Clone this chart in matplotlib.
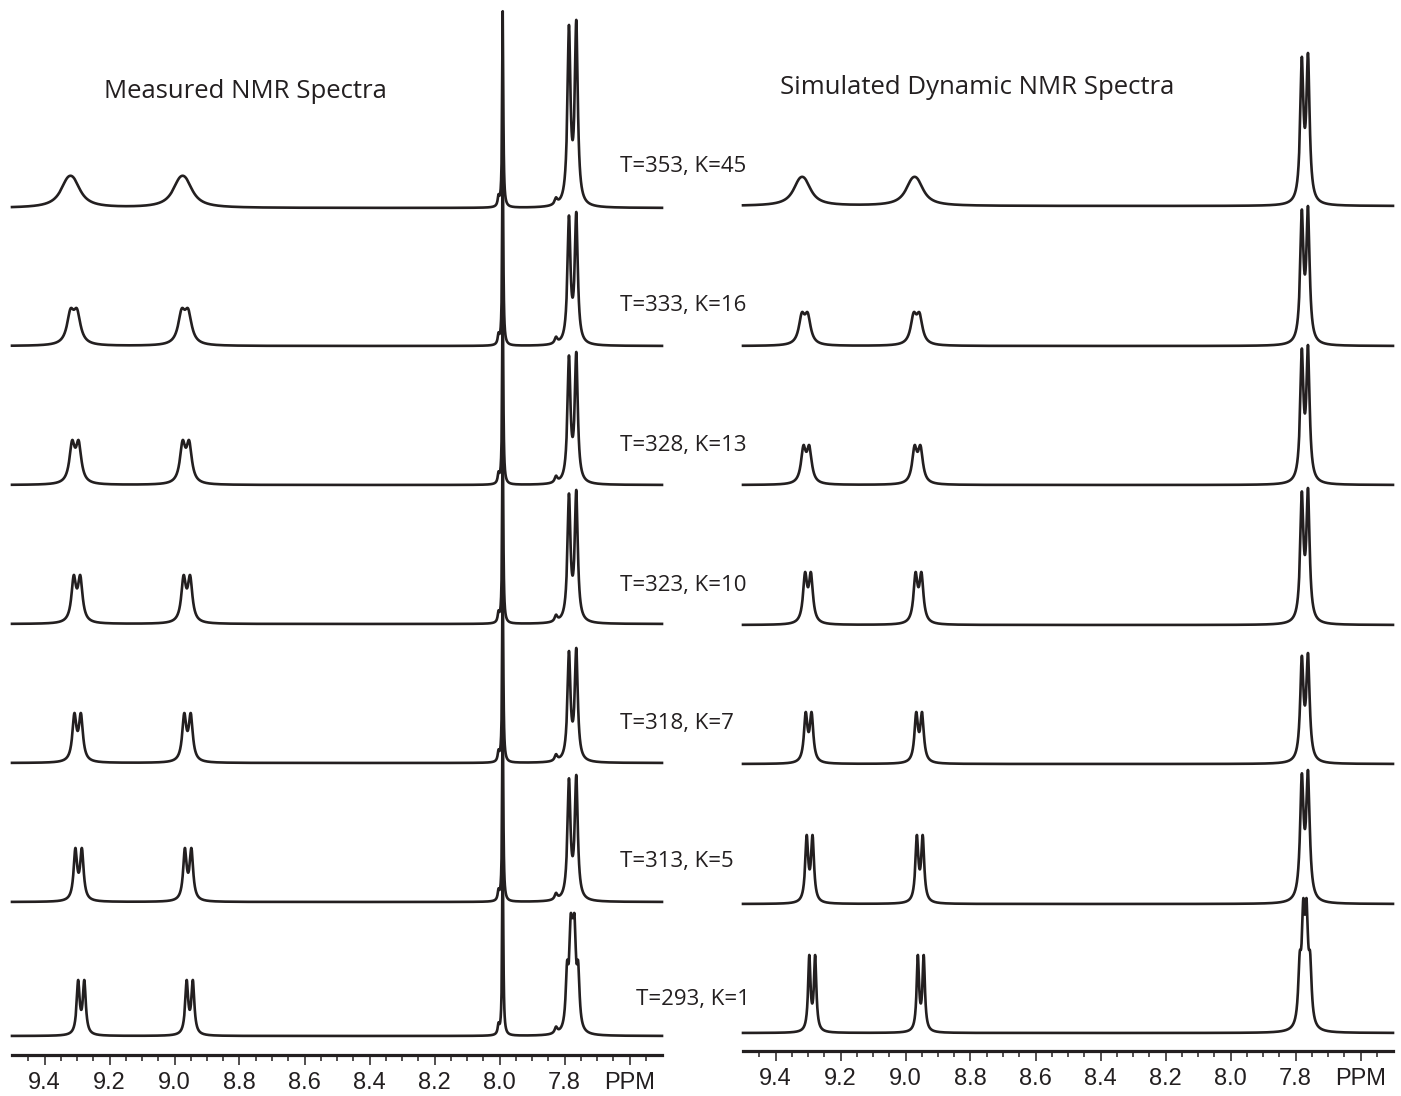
import numpy as np
import matplotlib
matplotlib.use("Agg")
import matplotlib.pyplot as plt
from matplotlib.ticker import FixedLocator, FixedFormatter

# ---------------- data ----------------
temps = [353, 333, 328, 323, 318, 313, 293]
k_rates = [45, 16, 13, 10, 7, 5, 1]

tick_vals = [9.4, 9.2, 9.0, 8.8, 8.6, 8.4, 8.2, 8.0, 7.8, 7.6]
tick_labels = ["9.4", "9.2", "9.0", "8.8", "8.6", "8.4", "8.2", "8.0", "7.8", "PPM"]

# measured spectra: peak A (~9.3 ppm), peak B (~8.96 ppm), peak C (~7.77 ppm), sharp S (7.99 ppm)
meas_pos_a = [9.320, 9.310, 9.305, 9.300, 9.298, 9.295, 9.287]
meas_pos_b = [8.975, 8.968, 8.965, 8.962, 8.960, 8.958, 8.953]
meas_h_ab = [32, 38, 45, 49, 50, 54, 56]
meas_w_ab = [0.055, 0.026, 0.020, 0.017, 0.015, 0.013, 0.011]
meas_j_ab = [0.020, 0.020, 0.020, 0.020, 0.020, 0.020, 0.019]
meas_pos_c = [7.775, 7.775, 7.775, 7.775, 7.775, 7.775, 7.775]
meas_h_c = [188, 134, 133, 134, 115, 127, 123]
meas_w_c = [0.011, 0.011, 0.011, 0.011, 0.011, 0.011, 0.010]
meas_j_c = [0.0225, 0.0225, 0.0225, 0.0225, 0.0225, 0.0225, 0.0225]
meas_pos_s = 7.990
meas_h_s = [196, 192, 192, 192, 192, 192, 190]
meas_w_s = 0.004
meas_sat_pos = [8.003, 7.826]
meas_sat_h = [9, 6]
meas_sat_w = [0.006, 0.010]

# simulated spectra
sim_pos_a = [9.318, 9.310, 9.305, 9.300, 9.298, 9.295, 9.287]
sim_pos_b = [8.972, 8.966, 8.963, 8.960, 8.958, 8.956, 8.953]
sim_h_ab = [29, 34, 40, 53, 52, 69, 78]
sim_w_ab = [0.050, 0.022, 0.018, 0.015, 0.013, 0.011, 0.009]
sim_j_ab = [0.018, 0.018, 0.018, 0.018, 0.018, 0.018, 0.018]
sim_pos_c = [7.771, 7.771, 7.771, 7.771, 7.771, 7.771, 7.771]
sim_h_c = [153, 140, 140, 137, 111, 134, 135]
sim_w_c = [0.0119, 0.0119, 0.0119, 0.0119, 0.0122, 0.0128, 0.011]
sim_j_c = [0.019, 0.019, 0.019, 0.019, 0.019, 0.019, 0.019]

# ---------------- layout ----------------
W, H = 1401, 1096
ink = "#231F20"
meas_base_px = [208, 346, 485, 624, 763, 902, 1036]
sim_base_px = [206, 346, 485, 625, 764, 904, 1033]
label_y_px = [166, 306, 445, 585, 724, 862, 1000]
label_x_px = [620, 620, 620, 620, 620, 620, 636]

x = np.linspace(7.5, 9.5, 6000)


def lines(center, offsets, intens, width):
    y = np.zeros_like(x)
    for o, inten in zip(offsets, intens):
        y += inten / (1.0 + ((x - (center + o)) / (width / 2.0)) ** 2)
    return y


def multiplet(center, offsets, intens, width, height):
    y = lines(center, offsets, intens, width)
    return y / y.max() * height


def doublet(center, j, width, height, ratio=1.0):
    return multiplet(center, [-j / 2, j / 2], [1.0, ratio], width, height)


def make_axes(left_px, axis_px):
    ax = fig.add_axes([left_px / W, 1 - axis_px / H, 650 / W, axis_px / H])
    ax.set_xlim(9.5, 7.5)
    ax.set_ylim(0, axis_px)
    ax.patch.set_visible(False)
    for s in ("top", "left", "right"):
        ax.spines[s].set_visible(False)
    ax.spines["bottom"].set_linewidth(2.3)
    ax.spines["bottom"].set_color(ink)
    ax.set_yticks([])
    ax.xaxis.set_major_locator(FixedLocator(tick_vals))
    ax.xaxis.set_major_formatter(FixedFormatter(tick_labels))
    ax.xaxis.set_minor_locator(FixedLocator(list(np.round(np.arange(7.55, 9.46, 0.05), 2))))
    ax.tick_params(axis="x", which="major", direction="out", length=7, width=1.1,
                   color=ink, pad=5, labelsize=17, labelcolor=ink)
    ax.tick_params(axis="x", which="minor", direction="out", length=4.5, width=1.1, color=ink)
    for lab in ax.get_xticklabels():
        lab.set_family(["Liberation Sans Narrow", "Liberation Sans", "DejaVu Sans"])
    return ax


fig = plt.figure(figsize=(W / 100, H / 100), dpi=100)
fig.patch.set_facecolor("white")

# ----- measured panel -----
axm = make_axes(12, 1055)
for i in range(len(temps)):
    base = 1055 - meas_base_px[i]
    y = np.full_like(x, float(base))
    y += doublet(meas_pos_a[i], meas_j_ab[i], meas_w_ab[i], meas_h_ab[i])
    y += doublet(meas_pos_b[i], meas_j_ab[i], meas_w_ab[i], meas_h_ab[i])
    if temps[i] == 293:
        y += multiplet(meas_pos_c[i], [-0.017, -0.006, 0.0, 0.006, 0.017],
                       [0.6, 0.9, 0.5, 0.9, 0.6], meas_w_c[i], meas_h_c[i])
    else:
        y += doublet(meas_pos_c[i], meas_j_c[i], meas_w_c[i], meas_h_c[i], 0.97)
    y += multiplet(meas_pos_s, [0.0], [1.0], meas_w_s, meas_h_s[i])
    for p, h, w in zip(meas_sat_pos, meas_sat_h, meas_sat_w):
        y += multiplet(p, [0.0], [1.0], w, h)
    axm.plot(x, y, color=ink, lw=1.9, solid_joinstyle="round", clip_on=False)

# ----- simulated panel -----
axs = make_axes(743, 1051)
for i in range(len(temps)):
    base = 1051 - sim_base_px[i]
    y = np.full_like(x, float(base))
    y += doublet(sim_pos_a[i], sim_j_ab[i], sim_w_ab[i], sim_h_ab[i])
    y += doublet(sim_pos_b[i], sim_j_ab[i], sim_w_ab[i], sim_h_ab[i])
    if temps[i] == 293:
        y += multiplet(sim_pos_c[i], [-0.016, -0.005, 0.005, 0.016],
                       [0.55, 1.0, 1.0, 0.55], sim_w_c[i], sim_h_c[i])
    else:
        y += doublet(sim_pos_c[i], sim_j_c[i], sim_w_c[i], sim_h_c[i], 0.97)
    axs.plot(x, y, color=ink, lw=1.9, solid_joinstyle="round", clip_on=False)

# ----- texts -----
title_font = ["Open Sans", "DejaVu Sans"]
fig.text(245 / W, 1 - 92 / H, "Measured NMR Spectra", ha="center", va="center",
         fontsize=18.5, family=title_font, color=ink)
fig.text(977 / W, 1 - 88 / H, "Simulated Dynamic NMR Spectra", ha="center", va="center",
         fontsize=18.5, family=title_font, color=ink)
for i in range(len(temps)):
    fig.text(label_x_px[i] / W, 1 - label_y_px[i] / H, f"T={temps[i]}, K={k_rates[i]}",
             ha="left", va="center", fontsize=16, family=title_font, color=ink)

fig.savefig("out.png", dpi=100, facecolor="white")
